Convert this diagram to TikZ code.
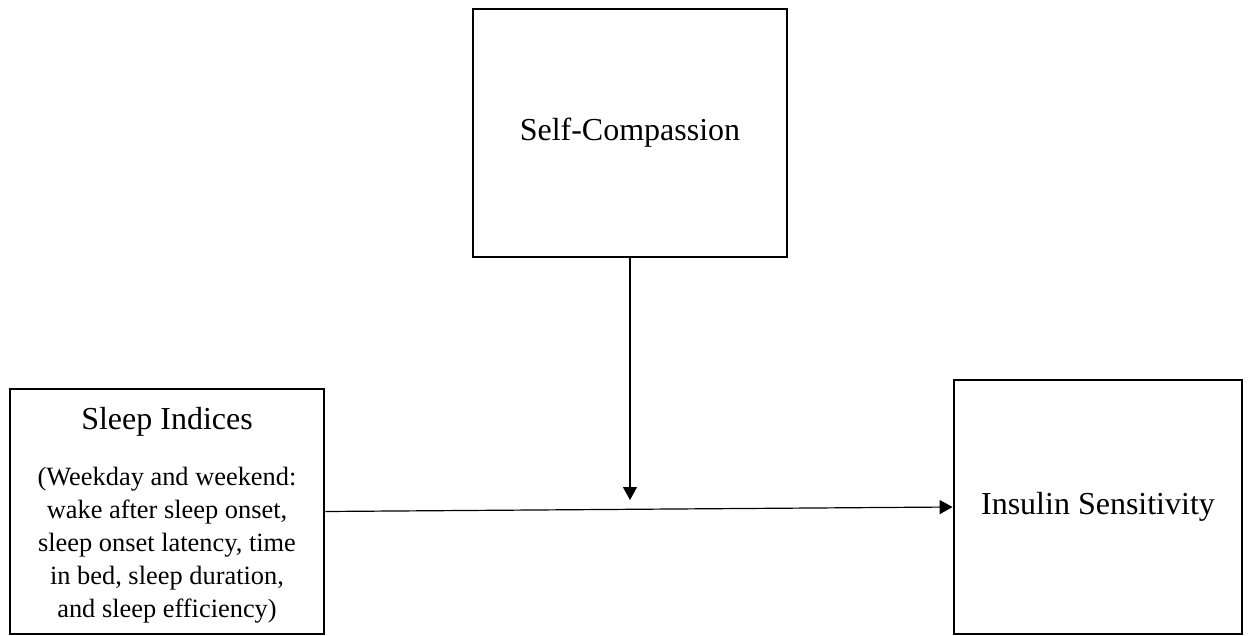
\documentclass[tikz,border=0pt]{standalone}
\usepackage{fontspec}
\setmainfont{Liberation Serif}
\usetikzlibrary{arrows.meta}

\begin{document}
\begin{tikzpicture}[x=0.5pt,y=-0.5pt,
  box/.style={draw,line width=1.4pt,rectangle,inner sep=0pt},
  big/.style={font=\fontsize{16}{19}\selectfont},
  small/.style={font=\fontsize{13.2}{16.5}\selectfont,align=center},
  link/.style={line width=0.6pt,-{Triangle[length=6.5pt,width=7pt]}}]
  \useasboundingbox (0,0) rectangle (1248,636);
  % boxes
  \node[box,big,minimum width=157pt,minimum height=124pt] (selfc) at (630,133) {Self-Compassion};
  \node[box,minimum width=157pt,minimum height=122.5pt] (sleep) at (167,511.5) {};
  \node[box,big,minimum width=144pt,minimum height=127pt] (insulin) at (1098,507) {Insulin Sensitivity};
  \node[big] (sleept) at (167,422) {Sleep Indices};
  \node[small] (sleepd) at (167,545) {(Weekday and weekend:\\wake after sleep onset,\\sleep onset latency, time\\in bed, sleep duration,\\and sleep efficiency)};
  \coordinate (mod) at (630,500);
  % paths
  \draw[link] (sleep.east) to (insulin.west);
  \draw[link] (selfc.south) to (mod);
\end{tikzpicture}
\end{document}
